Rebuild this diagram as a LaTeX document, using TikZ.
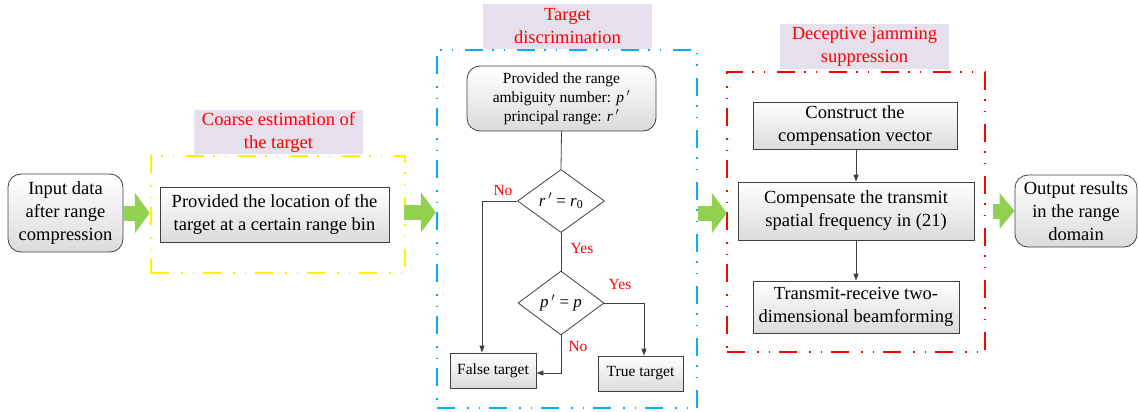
\documentclass[tikz,border=0pt]{standalone}
\usepackage{fontspec}
\setmainfont{Liberation Serif}
\usetikzlibrary{shapes.geometric,arrows.meta}
\definecolor{arrgreen}{HTML}{92D050}
\definecolor{lblfill}{HTML}{E6E0EC}
\definecolor{bluebox}{HTML}{00B0F0}
\definecolor{linegray}{HTML}{404040}
\tikzset{
  every node/.style={font=\rmfamily\fontsize{18.5}{23}\selectfont, align=center, inner sep=0pt},
  ddpattern/.style={line width=2.5pt, dash pattern=on 18pt off 12pt on 1.5pt off 10pt on 1.5pt off 9pt},
  groupbox/.style={ddpattern, rectangle},
  lblbox/.style={fill=lblfill, text=red, rectangle, font=\rmfamily\fontsize{18.5}{23}\selectfont},
  procbox/.style={draw=linegray, line width=0.8pt, rectangle, top color=white, bottom color=black!14},
  termbox/.style={procbox, rounded corners=13pt},
  decbox/.style={draw=linegray, line width=0.8pt, diamond, fill=white, font=\rmfamily\fontsize{17}{20}\selectfont},
  smallbox/.style={procbox, font=\rmfamily\fontsize{15.5}{19}\selectfont},
  flow/.style={draw=linegray, line width=0.8pt, -{Triangle[length=7pt,width=5pt]}},
  flowline/.style={draw=linegray, line width=0.8pt},
  bigarrow/.style={draw=arrgreen, line width=15pt, -{Triangle[length=15pt,width=40pt]}},
  yn/.style={text=red, font=\rmfamily\fontsize{15.5}{18}\selectfont},
}
\begin{document}
\begin{tikzpicture}[x=1pt,y=-1pt]
\useasboundingbox (0,0) rectangle (1138,412);
% group boxes
\node[groupbox, draw=yellow, minimum width=254, minimum height=117] (ybox) at (278,214.5) {};
\node[groupbox, draw=bluebox, minimum width=260, minimum height=358] (bbox) at (567,229) {};
\node[groupbox, draw=red, minimum width=258, minimum height=280] (rbox) at (856,212) {};
% labels
\node[lblbox, minimum width=169, minimum height=44] (ylbl) at (278.5,132) {Coarse estimation of\\the target};
\node[lblbox, minimum width=169, minimum height=45] (blbl) at (567.5,26.5) {Target\\discrimination};
\node[lblbox, minimum width=169, minimum height=45] (rlbl) at (864.5,46.5) {Deceptive jamming\\suppression};
% left
\node[termbox, minimum width=115, minimum height=78] (inp) at (65.5,213) {Input data\\after range\\compression};
\node[procbox, minimum width=229, minimum height=55] (loc) at (274.5,214.5) {Provided the location of the\\target at a certain range bin};
% discrimination
\node[termbox, font=\rmfamily\fontsize{15.5}{19}\selectfont, minimum width=189, minimum height=65] (prov) at (561.5,98.5) {Provided the range\\ambiguity number: \textit{p}\,$'$\\principal range: \textit{r}\,$'$};
\node[decbox, minimum width=87, minimum height=63] (d1) at (561,201) {\textit{r}\,$'$ = \textit{r}\textsubscript{0}};
\node[decbox, minimum width=86, minimum height=64] (d2) at (561,303) {\textit{p}\,$'$ = \textit{p}};
\node[smallbox, minimum width=86, minimum height=35] (fals) at (493,370.5) {False target};
\node[smallbox, minimum width=85, minimum height=35] (tru) at (640.5,373.5) {True target};
\coordinate (c1) at (482,201);
\coordinate (c2) at (644,303);
\coordinate (c3) at (561,373);
\draw[flowline] (prov.south) -- (d1.north);
\draw[flowline] (d1.south) -- (d2.north);
\draw[flow] (d1.west) -- (c1) -- (c1 |- fals.north);
\draw[flow] (d2.east) -- (c2) -- (c2 |- tru.north);
\draw[flow] (d2.south) -- (c3) -- (fals.east |- c3);
\node[yn] (no1) at (503,190) {No};
\node[yn] (yes1) at (582,248) {Yes};
\node[yn] (yes2) at (620,284) {Yes};
\node[yn] (no2) at (578,346) {No};
% jamming suppression
\node[procbox, minimum width=204, minimum height=47] (cons) at (855,125.5) {Construct the\\compensation vector};
\node[procbox, minimum width=236, minimum height=58] (comp) at (856,211) {Compensate the transmit\\spatial frequency in (21)};
\node[procbox, minimum width=206, minimum height=52] (trx) at (856,307) {Transmit-receive two-\\dimensional beamforming};
\draw[flow] (cons.south -| comp.north) -- (comp.north);
\draw[flow] (comp.south) -- (trx.north);
% output
\node[termbox, minimum width=122, minimum height=72] (outp) at (1076,211) {Output results\\in the range\\domain};
% big green arrows
\coordinate (ga1) at (0,213);
\coordinate (ga2) at (0,212.5);
\draw[bigarrow] (inp.east |- ga1) -- (ybox.west |- ga1);
\draw[bigarrow, shorten <=-2pt] (ybox.east |- ga2) -- (bbox.west |- ga2);
\draw[bigarrow] (bbox.east |- ga1) -- ([xshift=1pt]rbox.west |- ga1);
\draw[bigarrow, shorten <=7pt, -{Triangle[length=15pt,width=35pt]}] (rbox.east |- outp.west) -- (outp.west);
\end{tikzpicture}
\end{document}
